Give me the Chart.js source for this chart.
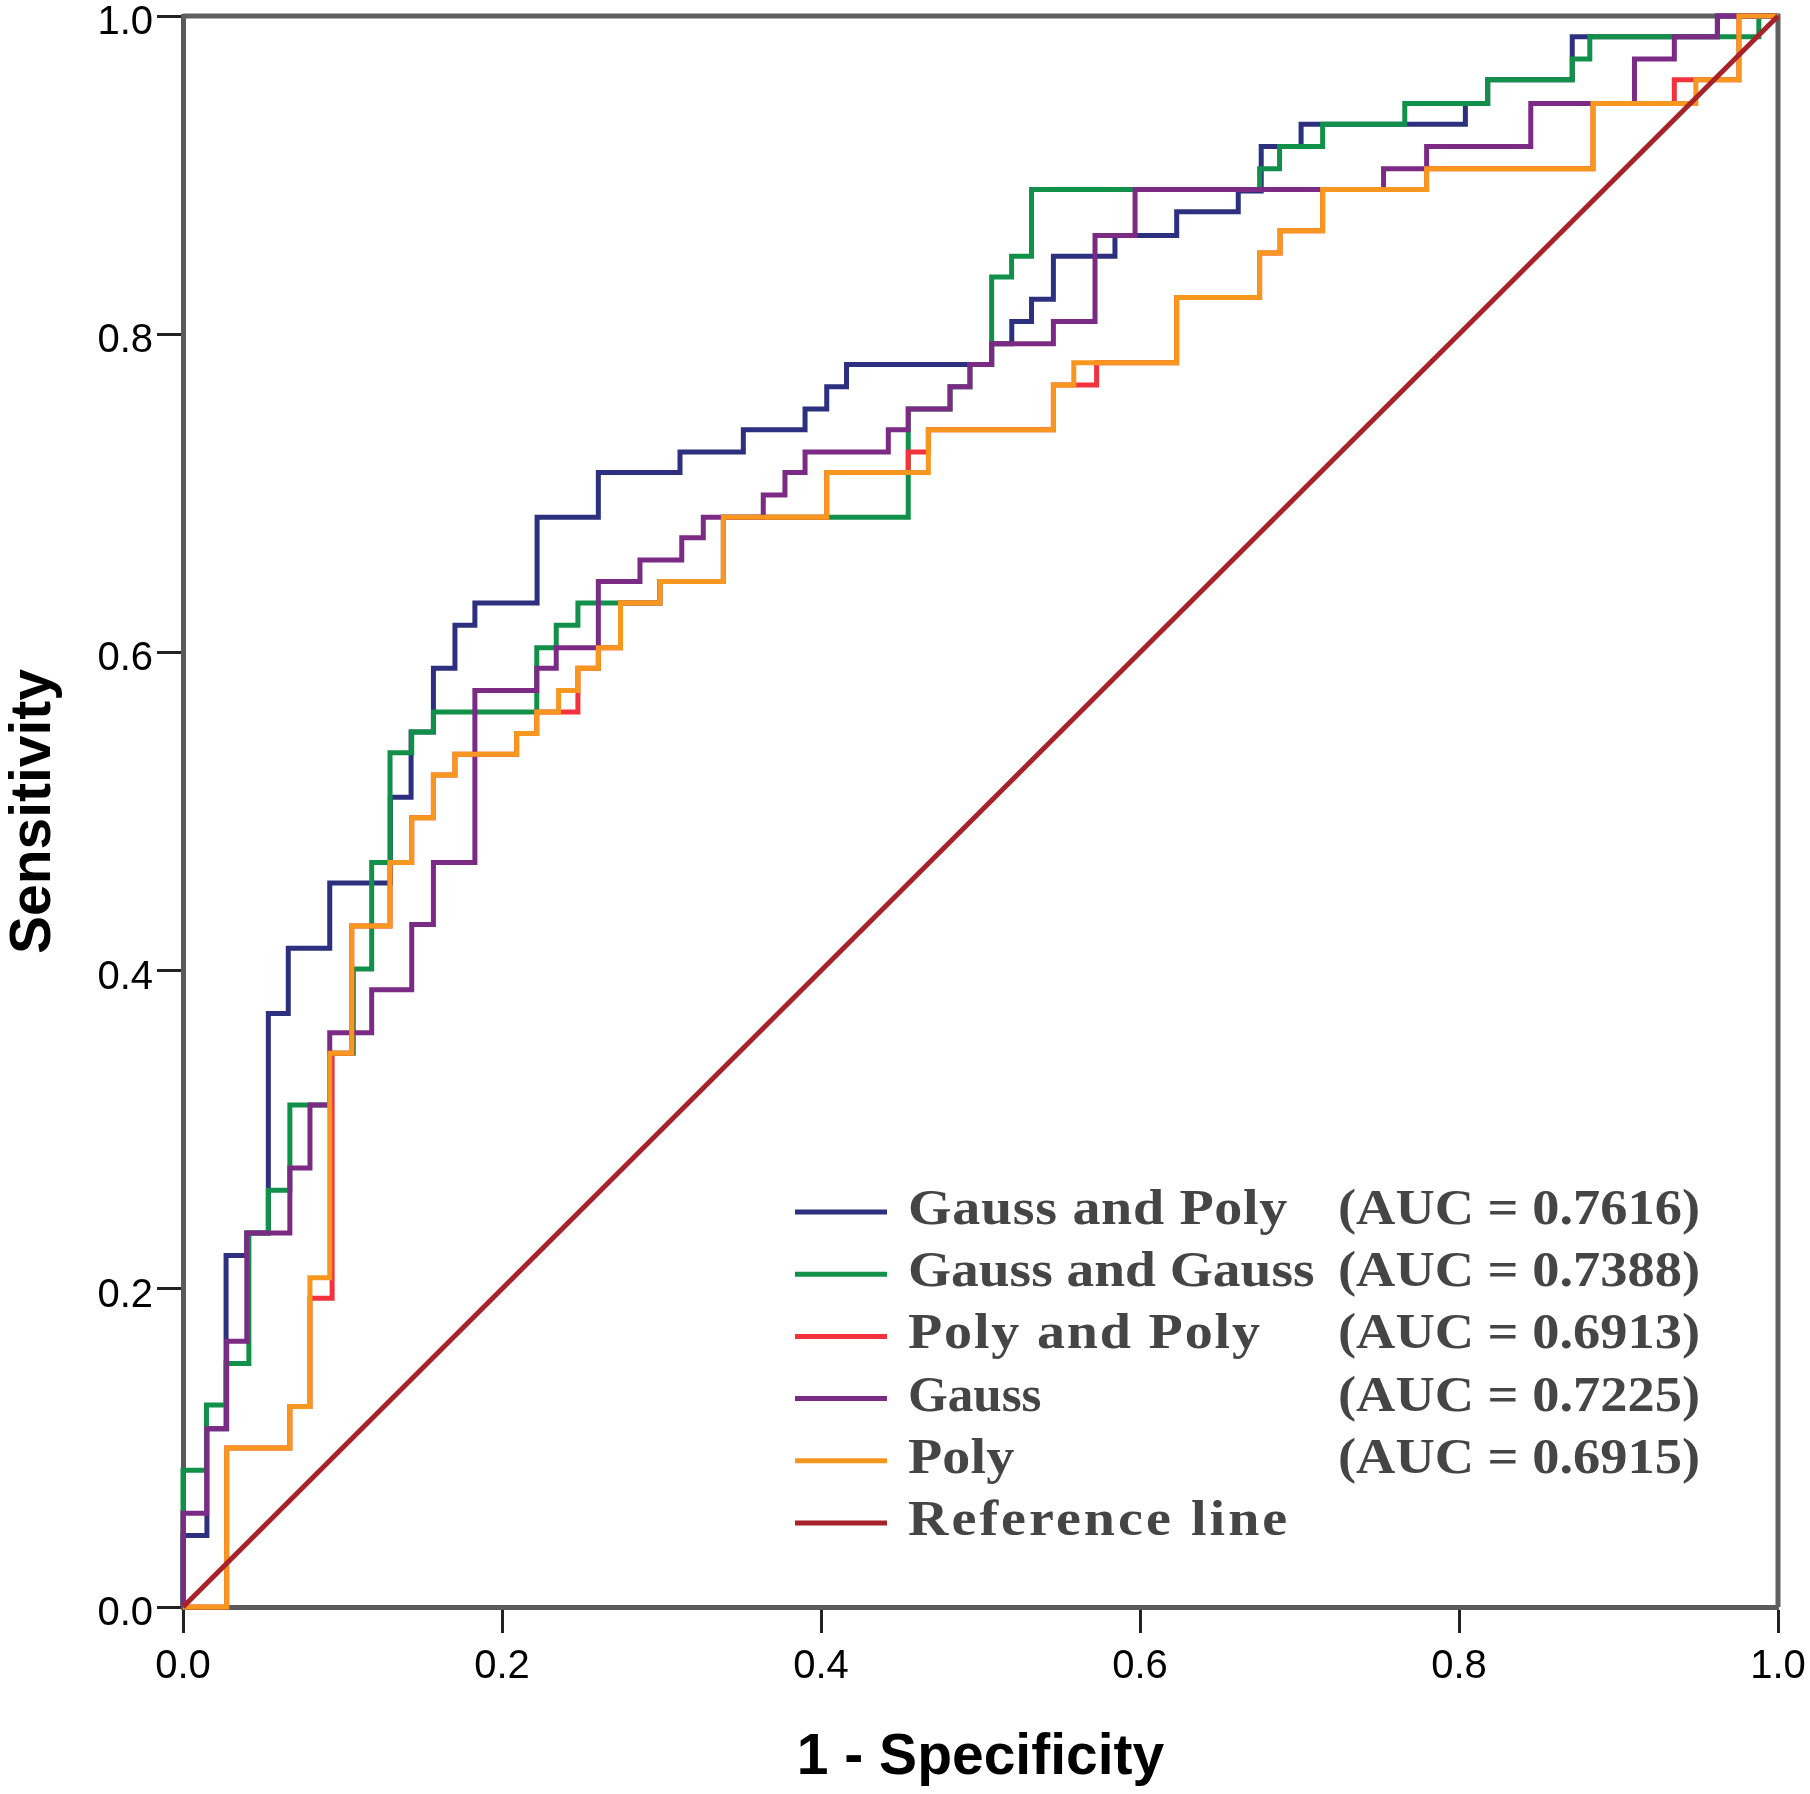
<!DOCTYPE html>
<html>
<head>
<meta charset="utf-8">
<script src="https://cdn.jsdelivr.net/npm/chart.js@4.4.0/dist/chart.umd.min.js"></script>
<style>
  html, body { margin: 0; padding: 0; background: #fff; }
  #roc { display: block; }
</style>
</head>
<body>
<canvas id="roc" width="1810" height="1794"></canvas>
<script>
// each curve is stored as the risers of its steps:
// x = 1 - specificity where it rises, y = sensitivity reached there
const gaussPolyX = [0, 0.015, 0.027, 0.040, 0.0535, 0.066, 0.092, 0.130, 0.143, 0.157, 0.1705, 0.183, 0.222, 0.2604, 0.3116, 0.3513, 0.390, 0.4036, 0.416, 0.507, 0.5196, 0.532, 0.5457, 0.5843, 0.623, 0.6616, 0.676, 0.701, 0.804, 0.818, 0.871, 0.962];
const gaussPolyY = [0.045, 0.112, 0.221, 0.235, 0.373, 0.414, 0.455, 0.509, 0.550, 0.590, 0.617, 0.631, 0.685, 0.713, 0.726, 0.740, 0.753, 0.767, 0.781, 0.794, 0.808, 0.822, 0.849, 0.862, 0.877, 0.890, 0.918, 0.932, 0.945, 0.960, 0.987, 1.0];

const gaussGaussX = [0, 0.0147, 0.027, 0.0413, 0.0535, 0.067, 0.092, 0.1068, 0.1183, 0.1298, 0.1434, 0.157, 0.2218, 0.234, 0.2476, 0.299, 0.3388, 0.4547, 0.4809, 0.4934, 0.507, 0.5195, 0.532, 0.675, 0.6875, 0.7145, 0.766, 0.818, 0.871, 0.882, 0.988];
const gaussGaussY = [0.086, 0.127, 0.153, 0.235, 0.262, 0.3155, 0.348, 0.401, 0.468, 0.537, 0.550, 0.5625, 0.603, 0.617, 0.631, 0.6445, 0.685, 0.753, 0.767, 0.781, 0.836, 0.849, 0.891, 0.904, 0.918, 0.932, 0.945, 0.960, 0.973, 0.987, 1.0];

const polyPolyX = [0.0274, 0.067, 0.0796, 0.0935, 0.1058, 0.1298, 0.1434, 0.157, 0.1705, 0.2092, 0.2218, 0.2476, 0.2604, 0.2743, 0.299, 0.3388, 0.4036, 0.4547, 0.4673, 0.5457, 0.5728, 0.623, 0.675, 0.6878, 0.7145, 0.7797, 0.884, 0.935, 0.9755];
const polyPolyY = [0.100, 0.126, 0.194, 0.348, 0.428, 0.468, 0.496, 0.523, 0.536, 0.549, 0.5625, 0.590, 0.603, 0.631, 0.6445, 0.685, 0.713, 0.726, 0.740, 0.768, 0.782, 0.823, 0.851, 0.865, 0.891, 0.904, 0.945, 0.960, 1.0];

const gaussX = [0, 0.0149, 0.0274, 0.040, 0.067, 0.0796, 0.092, 0.1183, 0.1434, 0.157, 0.183, 0.2218, 0.234, 0.2604, 0.2865, 0.3127, 0.3262, 0.3638, 0.3774, 0.390, 0.4422, 0.4547, 0.4809, 0.4934, 0.507, 0.5457, 0.5718, 0.5969, 0.7527, 0.7797, 0.845, 0.910, 0.935, 0.962];
const gaussY = [0.059, 0.112, 0.167, 0.235, 0.276, 0.3155, 0.361, 0.388, 0.429, 0.468, 0.576, 0.590, 0.603, 0.6445, 0.658, 0.672, 0.685, 0.699, 0.713, 0.726, 0.740, 0.753, 0.767, 0.781, 0.794, 0.808, 0.862, 0.891, 0.904, 0.918, 0.945, 0.973, 0.987, 1.0];

const polyX = [0.0274, 0.067, 0.0796, 0.092, 0.1058, 0.1298, 0.1434, 0.157, 0.1705, 0.2092, 0.2218, 0.2355, 0.2476, 0.2604, 0.2743, 0.299, 0.3388, 0.4036, 0.4673, 0.5457, 0.5585, 0.623, 0.675, 0.6878, 0.7145, 0.7797, 0.884, 0.9485, 0.9755];
const polyY = [0.100, 0.126, 0.207, 0.348, 0.428, 0.468, 0.496, 0.523, 0.536, 0.549, 0.5625, 0.576, 0.590, 0.603, 0.631, 0.6445, 0.685, 0.713, 0.740, 0.768, 0.782, 0.823, 0.851, 0.865, 0.891, 0.904, 0.945, 0.960, 1.0];

const referenceX = [0, 1];
const referenceY = [0, 1];

const curveNames = ['Gauss and Poly', 'Gauss and Gauss', 'Poly and Poly', 'Gauss', 'Poly', 'Reference line'];
const aucValues = [0.7616, 0.7388, 0.6913, 0.7225, 0.6915];
const tickValues = [0, 0.2, 0.4, 0.6, 0.8, 1.0];

const colors = ['#2d2f7f', '#11904a', '#f2333d', '#7b2b84', '#f8971f', '#a8222a'];

function steps(xs, ys) {
  const pts = [{ x: 0, y: 0 }];
  xs.forEach((x, i) => pts.push({ x: x, y: ys[i] }));
  pts.push({ x: 1, y: 1 });
  return pts;
}

// stretch a string to a given width (the original legend used a monospaced font)
function fitText(ctx, str, x, y, width) {
  ctx.letterSpacing = '0px';
  const w = ctx.measureText(str).width;
  const sx = Math.min(width / w, 1.12);
  const gap = (width - w * sx) / Math.max(str.length - 1, 1);
  ctx.save();
  ctx.translate(x, y);
  ctx.scale(sx, 1);
  ctx.letterSpacing = (gap / sx) + 'px';
  ctx.fillText(str, 0, 0);
  ctx.restore();
}

const frame = {
  id: 'frame',
  beforeDatasetsDraw(chart) {
    const { ctx, chartArea: a } = chart;
    ctx.save();
    ctx.strokeStyle = '#5f5f5f';
    ctx.lineWidth = 5;
    ctx.beginPath();
    ctx.moveTo(a.left, a.top);
    ctx.lineTo(a.right, a.top);
    ctx.lineTo(a.right, a.bottom);
    ctx.stroke();
    ctx.restore();
  }
};

const rocLegend = {
  id: 'rocLegend',
  afterDatasetsDraw(chart) {
    const ctx = chart.ctx;
    ctx.save();
    ctx.font = 'bold 50px "Liberation Serif", "Times New Roman", serif';
    ctx.textBaseline = 'alphabetic';
    chart.data.datasets.forEach((ds, i) => {
      const y = 1212 + i * 62.2;
      ctx.strokeStyle = ds.borderColor;
      ctx.lineWidth = 5;
      ctx.beginPath();
      ctx.moveTo(795, y);
      ctx.lineTo(887, y);
      ctx.stroke();
      ctx.fillStyle = '#454545';
      fitText(ctx, ds.label, 908, y + 12, ds.label.length * 27.3 - 3);
      if (i < aucValues.length) {
        fitText(ctx, '(AUC = ' + aucValues[i].toFixed(4) + ')', 1338, y + 12, 362);
      }
    });
    ctx.restore();
  }
};

const series = [
  steps(gaussPolyX, gaussPolyY),
  steps(gaussGaussX, gaussGaussY),
  steps(polyPolyX, polyPolyY),
  steps(gaussX, gaussY),
  steps(polyX, polyY),
  referenceX.map((x, i) => ({ x: x, y: referenceY[i] }))
];

const data = {
  datasets: series.map((pts, i) => ({
    label: curveNames[i],
    data: pts,
    borderColor: colors[i],
    backgroundColor: colors[i],
    borderWidth: 5,
    pointRadius: 0,
    fill: false,
    stepped: i < 5 ? true : false,
    order: 5 - i,
    clip: 6
  }))
};

Chart.defaults.font.family = '"Liberation Sans", Arial, sans-serif';

const config = {
  type: 'line',
  data: data,
  options: {
    responsive: false,
    animation: false,
    devicePixelRatio: 1,
    layout: { padding: { top: 16, right: 32, bottom: 0, left: 0 } },
    plugins: {
      legend: { display: false },
      tooltip: { enabled: false }
    },
    scales: {
      x: {
        type: 'linear',
        min: 0,
        max: 1,
        afterBuildTicks: s => { s.ticks = tickValues.map(v => ({ value: v })); },
        afterFit: s => { s.height = 187; s.paddingLeft = 0; s.paddingRight = 0; },
        ticks: { font: { size: 40 }, color: '#000', padding: 10, callback: v => v.toFixed(1) },
        grid: { drawOnChartArea: false, drawTicks: true, tickLength: 26, tickWidth: 3, tickColor: '#222' },
        border: { display: true, color: '#5a5a5a', width: 5 },
        title: { display: true, text: '1 - Specificity', color: '#000', font: { size: 57, weight: 'bold' }, padding: { top: 0, bottom: 2 } }
      },
      y: {
        type: 'linear',
        min: 0,
        max: 1,
        afterBuildTicks: s => { s.ticks = tickValues.map(v => ({ value: v })); },
        afterFit: s => { s.width = 183; s.paddingTop = 0; s.paddingBottom = 0; },
        ticks: { font: { size: 40 }, color: '#000', padding: 4, labelOffset: 7, callback: v => v.toFixed(1) },
        grid: { drawOnChartArea: false, drawTicks: true, tickLength: 26, tickWidth: 3, tickColor: '#222' },
        border: { display: true, color: '#5a5a5a', width: 5 },
        title: { display: true, text: 'Sensitivity', color: '#000', font: { size: 57, weight: 'bold' }, padding: { top: 0, bottom: 0 } }
      }
    }
  },
  plugins: [frame, rocLegend]
};

const rocChart = new Chart(document.getElementById('roc'), config);
</script>
</body>
</html>
